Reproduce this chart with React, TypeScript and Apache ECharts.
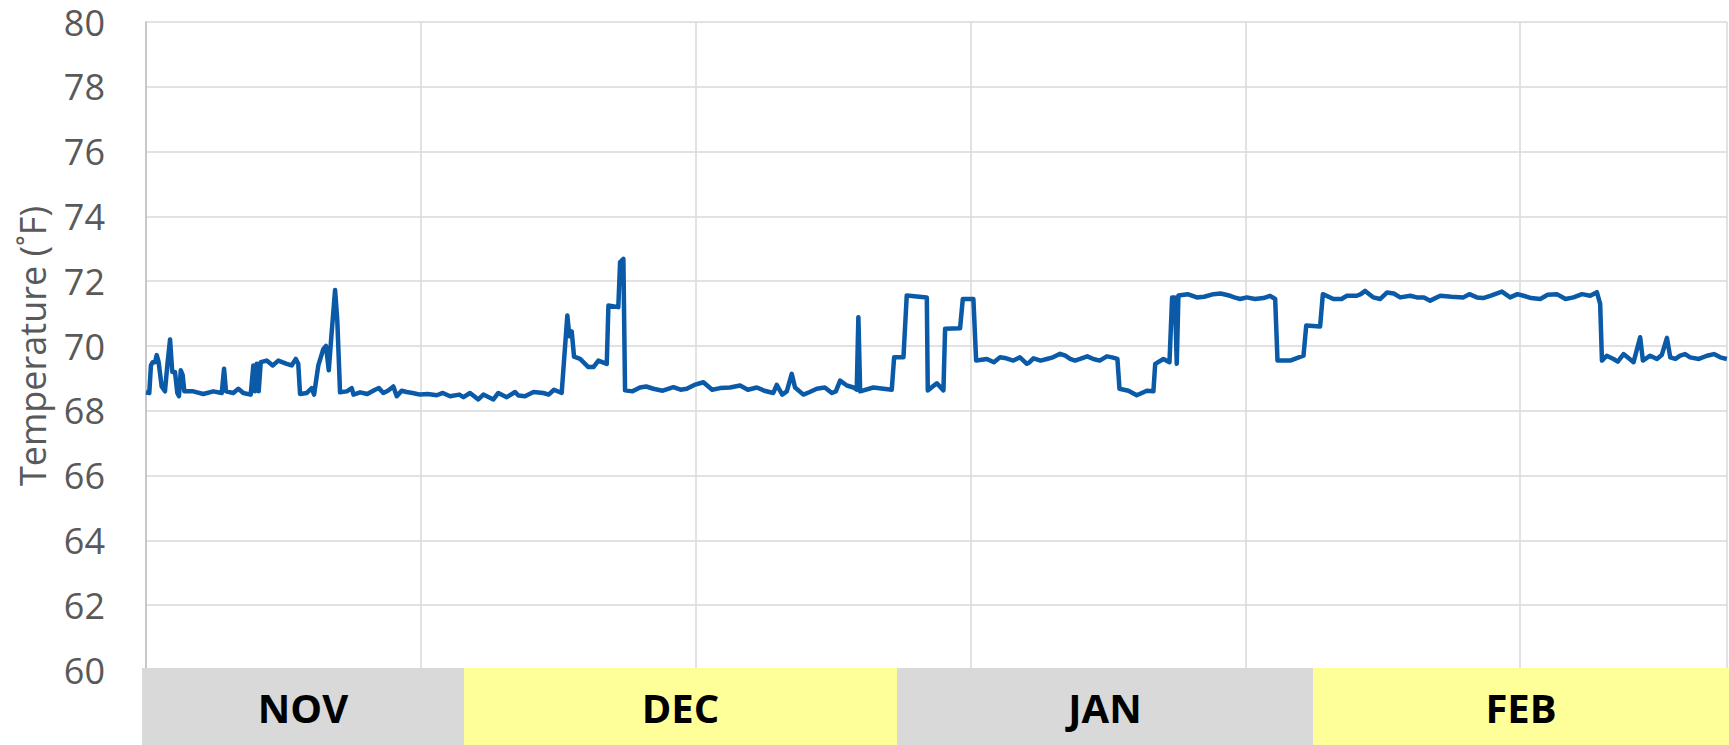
import React, { useEffect, useRef } from "react";
import * as echarts from "echarts";

// Readings: [days since start of record, indoor temperature °F]
const novReadings: [number, number][] = [
  [0, 68.57], [0.24, 68.55], [0.36, 69.4], [0.49, 69.5], [0.66, 69.5], [0.78, 69.72], [0.92, 69.5],
  [1.14, 68.75], [1.38, 68.6], [1.55, 69.4], [1.75, 70.2], [1.91, 69.2], [2.11, 69.2], [2.28, 68.55],
  [2.4, 68.45], [2.53, 69.25], [2.67, 69.1], [2.79, 68.6], [3.44, 68.6], [4.17, 68.52], [4.9, 68.6],
  [5.51, 68.55], [5.68, 69.3], [5.82, 68.6], [6.35, 68.55], [6.72, 68.68], [7.08, 68.55], [7.62, 68.5],
  [7.81, 69.4], [7.93, 68.6], [8.06, 69.45], [8.2, 68.6], [8.35, 69.5], [8.78, 69.55], [9.22, 69.4],
  [9.63, 69.55], [10.24, 69.45], [10.6, 69.4], [10.9, 69.6], [11.08, 69.45], [11.21, 68.52],
  [11.7, 68.55], [12.06, 68.7], [12.23, 68.5], [12.54, 69.4], [12.9, 69.9], [13.1, 70.0], [13.3, 69.25],
  [13.49, 70.3], [13.76, 71.73], [13.92, 70.8], [14.12, 68.57], [14.61, 68.6], [14.97, 68.7], [15.1, 68.5],
  [15.58, 68.57], [16.1, 68.52], [16.67, 68.65], [16.95, 68.7], [17.27, 68.55], [17.6, 68.62],
  [18.0, 68.75], [18.25, 68.45], [18.6, 68.62], [18.97, 68.58], [19.4, 68.55], [19.94, 68.5],
  [20.5, 68.52], [21.16, 68.48], [21.6, 68.55], [22.13, 68.45], [22.8, 68.5], [23.1, 68.42],
];

const decReadings: [number, number][] = [
  [23.58, 68.55], [24.18, 68.35], [24.55, 68.5], [25.28, 68.35], [25.64, 68.55], [26.25, 68.42],
  [26.86, 68.58], [27.1, 68.47], [27.58, 68.45], [28.2, 68.58], [28.92, 68.55], [29.3, 68.5],
  [29.69, 68.65], [30.25, 68.55], [30.42, 69.55], [30.66, 70.94], [30.81, 70.3], [30.98, 70.45],
  [31.15, 69.67], [31.59, 69.6], [32.19, 69.35], [32.56, 69.35], [32.92, 69.55], [33.53, 69.45],
  [33.65, 71.25], [34.37, 71.2], [34.5, 72.59], [34.74, 72.69], [34.86, 68.63], [35.4, 68.6],
  [35.95, 68.72], [36.4, 68.75], [36.92, 68.68], [37.6, 68.62], [38.38, 68.73], [38.9, 68.65],
  [39.35, 68.68], [39.9, 68.8], [40.56, 68.88], [41.2, 68.65], [41.78, 68.7], [42.5, 68.72],
  [43.23, 68.78], [43.8, 68.65], [44.45, 68.72], [45.0, 68.62], [45.65, 68.55], [45.9, 68.8],
  [46.3, 68.5], [46.63, 68.6], [46.99, 69.14], [47.23, 68.72], [47.84, 68.5], [48.3, 68.58],
  [48.81, 68.68], [49.4, 68.72], [49.91, 68.55], [50.2, 68.6], [50.51, 68.93], [51.0, 68.78],
  [51.48, 68.72], [51.72, 68.65], [51.84, 70.89], [51.97, 68.6], [52.93, 68.72], [54.27, 68.65],
  [54.44, 69.65],
];

const janReadings: [number, number][] = [
  [55.12, 69.65], [55.36, 71.56], [56.82, 71.5], [56.89, 68.63], [57.55, 68.85], [58.03, 68.63],
  [58.15, 70.53], [59.24, 70.55], [59.44, 71.45], [60.21, 71.45], [60.41, 69.55], [61.19, 69.6],
  [61.7, 69.5], [62.15, 69.65], [62.6, 69.62], [63.12, 69.55], [63.6, 69.65], [64.1, 69.45],
  [64.3, 69.5], [64.58, 69.62], [65.1, 69.55], [65.55, 69.6], [66.0, 69.65], [66.52, 69.76],
  [66.9, 69.7], [67.25, 69.6], [67.6, 69.55], [67.98, 69.6], [68.5, 69.68], [68.94, 69.6],
  [69.4, 69.55], [69.92, 69.68], [70.3, 69.65], [70.69, 69.6], [70.84, 68.68], [71.49, 68.62],
  [72.1, 68.48], [72.83, 68.62], [73.31, 68.6], [73.44, 69.45], [74.04, 69.6], [74.48, 69.5],
  [74.67, 71.5], [74.87, 71.5], [75.01, 69.45], [75.13, 71.56], [75.8, 71.6], [76.47, 71.5],
  [77.0, 71.52], [77.68, 71.6], [78.2, 71.62], [78.89, 71.55], [79.2, 71.5], [79.62, 71.45],
  [80.11, 71.5], [80.7, 71.45], [81.32, 71.48], [81.8, 71.55], [82.17, 71.45], [82.34, 69.55],
  [83.26, 69.55], [84.23, 69.7],
];

const febReadings: [number, number][] = [
  [84.43, 70.63], [85.44, 70.6], [85.64, 71.6], [86.41, 71.45], [87.0, 71.45], [87.39, 71.55],
  [88.11, 71.55], [88.4, 71.6], [88.72, 71.7], [89.32, 71.5], [89.8, 71.45], [90.3, 71.65],
  [90.8, 71.62], [91.27, 71.5], [92.0, 71.55], [92.48, 71.5], [93.0, 71.5], [93.45, 71.4],
  [94.18, 71.55], [95.0, 71.52], [95.87, 71.5], [96.3, 71.6], [96.85, 71.5], [97.3, 71.48],
  [97.82, 71.55], [98.67, 71.68], [99.27, 71.5], [99.8, 71.6], [100.24, 71.55], [100.8, 71.48],
  [101.46, 71.45], [102.0, 71.58], [102.67, 71.6], [103.3, 71.45], [103.88, 71.5], [104.5, 71.6],
  [105.1, 71.55], [105.58, 71.66], [105.82, 71.3], [105.95, 69.55], [106.3, 69.7], [106.79, 69.6],
  [107.1, 69.52], [107.52, 69.75], [107.9, 69.62], [108.25, 69.5], [108.73, 70.27], [108.93, 69.55],
  [109.46, 69.7], [109.95, 69.6], [110.3, 69.72], [110.68, 70.25], [110.92, 69.65], [111.3, 69.6],
  [111.64, 69.7], [112.0, 69.75], [112.37, 69.65], [113.0, 69.6], [113.59, 69.7], [114.1, 69.75],
  [114.56, 69.65], [115.04, 69.6],
];

const months: string[] = ["NOV", "DEC", "JAN", "FEB"];
const yMin = 60;
const yMax = 80;
const yStep = 2;
const xMax = 115.05;
const xStep = 20;

// layout of the month cells under the plot (pixels)
const monthEdges = [142, 464, 897, 1313, 1729];
const monthFills = ["#d9d9d9", "#ffff99", "#d9d9d9", "#ffff99"];
const FONT = "'Open Sans', 'Liberation Sans', sans-serif";

export default function App() {
  const ref = useRef<HTMLDivElement>(null);

  useEffect(() => {
    if (!ref.current) return;
    const chart = echarts.init(ref.current, undefined, { renderer: "svg" });
    const bandTop = 668;
    const bandH = 745 - bandTop;
    const graphics: any[] = [];
    months.forEach((m, i) => {
      graphics.push({
        type: "rect",
        z: 100,
        shape: { x: monthEdges[i], y: bandTop, width: monthEdges[i + 1] - monthEdges[i], height: bandH },
        style: { fill: monthFills[i] },
      });
      graphics.push({
        type: "text",
        z: 101,
        x: (monthEdges[i] + monthEdges[i + 1]) / 2,
        y: bandTop + bandH / 2 + 1,
        style: {
          text: m,
          fill: "#000000",
          font: `bold 40px ${FONT}`,
          align: "center",
          verticalAlign: "middle",
        },
      });
    });

    const data = [...novReadings, ...decReadings, ...janReadings, ...febReadings];

    chart.setOption({
      animation: false,
      grid: { left: 146, right: 2, top: 22, bottom: 75, containLabel: false },
      xAxis: {
        type: "value",
        min: 0,
        max: xMax,
        interval: xStep,
        axisLine: { show: false },
        axisTick: { show: false },
        axisLabel: { show: false },
        splitLine: { show: true, lineStyle: { color: "#d9d9d9", width: 1.5 } },
      },
      yAxis: {
        type: "value",
        min: yMin,
        max: yMax,
        interval: yStep,
        name: "Temperature (˚F)",
        nameLocation: "middle",
        nameGap: 96,
        nameTextStyle: { fontFamily: FONT, fontSize: 36, color: "#595959" },
        axisLine: { show: true, lineStyle: { color: "#bfbfbf", width: 1.5 } },
        axisTick: { show: false },
        axisLabel: { fontFamily: FONT, fontSize: 36, lineHeight: 36, color: "#595959", margin: 41 },
        splitLine: { show: true, lineStyle: { color: "#d9d9d9", width: 1.5 } },
      },
      series: [
        {
          type: "line",
          data,
          showSymbol: false,
          symbol: "none",
          lineStyle: { color: "#0a5aa8", width: 4.5, join: "round" },
          z: 5,
        },
      ],
      graphic: graphics,
    });
    return () => chart.dispose();
  }, []);

  return (
    <div
      ref={ref}
      style={{ position: "fixed", left: 0, top: 0, width: 1729, height: 745, background: "#ffffff" }}
    />
  );
}
